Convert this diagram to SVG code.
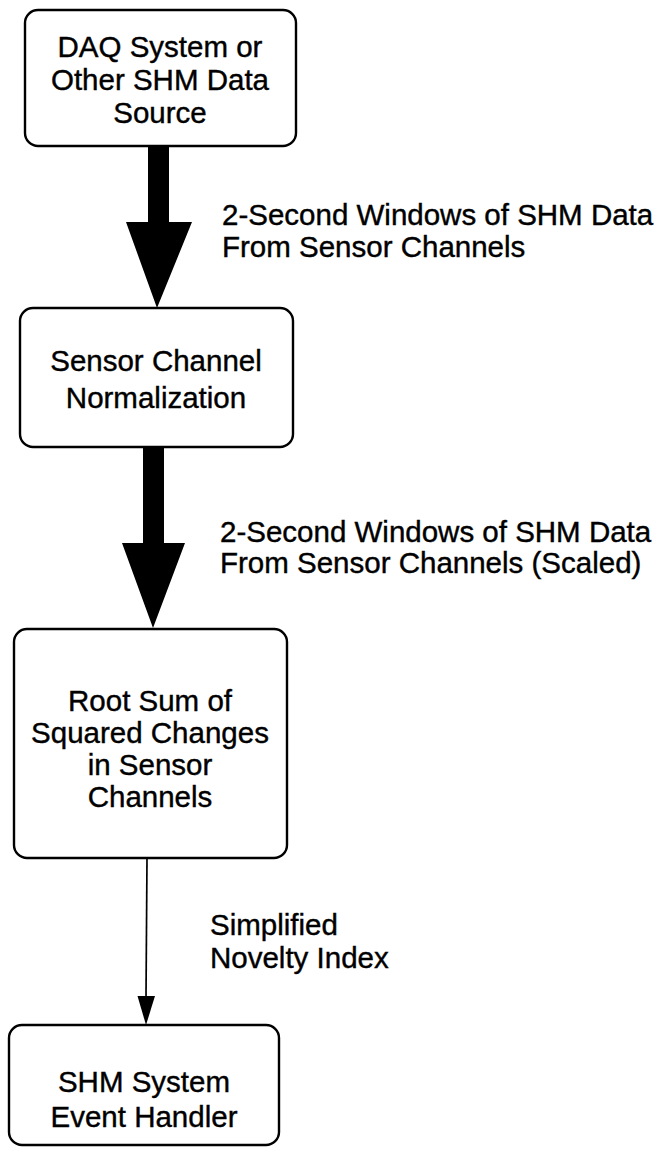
<svg xmlns="http://www.w3.org/2000/svg" width="666" height="1165" viewBox="0 0 666 1165">
  <style>
    .box { fill: #fff; stroke: #000; stroke-width: 2.4; }
    .t { font-family: "Liberation Sans", Arial, sans-serif; font-size: 29.5px; fill: #000; stroke: #000; stroke-width: 0.4; }
    .c { text-anchor: middle; }
    .thick { fill: #000; stroke: none; }
    .thin { stroke: #000; stroke-width: 1.7; fill: none; }
  </style>
  <rect width="666" height="1165" fill="#fff"/>

  <g id="connectors">
    <!-- block arrow: source to normalization -->
    <path class="thick" d="M148,146 L169,146 L169,222 L192,222 L157,308 L126,222 L148,222 Z"/>
    <!-- block arrow: normalization to root sum -->
    <path class="thick" d="M143,447 L164,447 L164,543 L185,543 L153,628 L122,543 L143,543 Z"/>
    <!-- thin arrow: root sum to event handler -->
    <line class="thin" x1="147" y1="858" x2="146" y2="997"/>
    <path d="M137.5,996 L155,996 L146,1025 Z" fill="#000"/>
    <g id="edge-labels">
      <text class="t" x="222" y="225">2-Second Windows of SHM Data</text>
      <text class="t" x="222" y="257">From Sensor Channels</text>
      <text class="t" x="220" y="542">2-Second Windows of SHM Data</text>
      <text class="t" x="220" y="573">From Sensor Channels (Scaled)</text>
      <text class="t" x="210" y="935">Simplified</text>
      <text class="t" x="210" y="968">Novelty Index</text>
    </g>
  </g>

  <g id="node-source">
    <rect class="box" x="25" y="10" width="271" height="136" rx="13"/>
    <text class="t c" x="160" y="57">DAQ System or</text>
    <text class="t c" x="160" y="90">Other SHM Data</text>
    <text class="t c" x="160" y="123">Source</text>
  </g>

  <g id="node-normalization">
    <rect class="box" x="20" y="308" width="273" height="139" rx="13"/>
    <text class="t c" x="156" y="371">Sensor Channel</text>
    <text class="t c" x="156" y="408">Normalization</text>
  </g>

  <g id="node-rssc">
    <rect class="box" x="14" y="629" width="273" height="229" rx="13"/>
    <text class="t c" x="150" y="711">Root Sum of</text>
    <text class="t c" x="150" y="743">Squared Changes</text>
    <text class="t c" x="150" y="775">in Sensor</text>
    <text class="t c" x="150" y="807">Channels</text>
  </g>

  <g id="node-event-handler">
    <rect class="box" x="9" y="1025" width="270" height="120" rx="13"/>
    <text class="t c" x="144" y="1092">SHM System</text>
    <text class="t c" x="144" y="1127">Event Handler</text>
  </g>
</svg>
